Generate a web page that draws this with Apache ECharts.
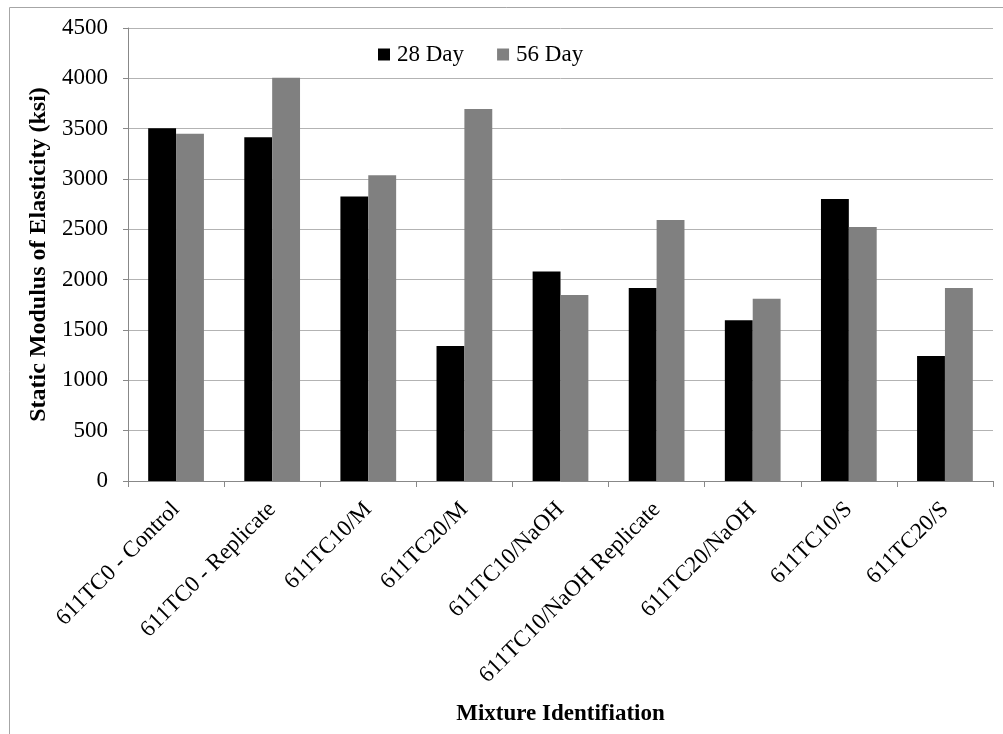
<!DOCTYPE html>
<html>
<head>
<meta charset="utf-8">
<script src="https://cdn.jsdelivr.net/npm/echarts@6/dist/echarts.min.js"></script>
<style>
html,body{margin:0;padding:0;background:#fff;}
#chart{width:1003px;height:734px;}
</style>
</head>
<body>
<div id="chart"></div>
<script>
const categories = ["611TC0 - Control", "611TC0 - Replicate", "611TC10/M", "611TC20/M", "611TC10/NaOH", "611TC10/NaOH Replicate", "611TC20/NaOH", "611TC10/S", "611TC20/S"];
const day28 = [3505, 3415, 2825, 1340, 2080, 1918, 1596, 2801, 1242];
const day56 = [3450, 4005, 3037, 3695, 1848, 2593, 1811, 2523, 1917];
const seriesNames = ["28 Day", "56 Day"];
const yTicks = {min: 0, max: 4500, interval: 500};

const font = 'Liberation Serif';
const chart = echarts.init(document.getElementById('chart'));
chart.setOption({
  animation: false,
  backgroundColor: '#fff',
  textStyle: {fontFamily: font, color: '#000'},
  graphic: [{
    type: 'rect', shape: {x: 9.5, y: 7.5, width: 1010, height: 740},
    style: {fill: 'none', stroke: '#a6a6a6', lineWidth: 1}, silent: true
  }],
  legend: {
    data: seriesNames,
    left: 373, top: 38,
    itemWidth: 12, itemHeight: 12, itemGap: 33,
    icon: 'rect',
    textStyle: {fontFamily: font, fontSize: 23, color: '#000', padding: [0, 0, 0, 2]}
  },
  grid: {left: 128, right: 10, top: 28, bottom: 253, containLabel: false, outerBoundsMode: 'none'},
  xAxis: {
    type: 'category',
    data: categories,
    name: 'Mixture Identifiation',
    nameLocation: 'middle',
    nameGap: 222,
    nameTextStyle: {fontFamily: font, fontSize: 23, fontWeight: 'bold', color: '#000'},
    axisLine: {lineStyle: {color: '#888', width: 1}},
    axisTick: {show: true, alignWithLabel: false, length: 6, lineStyle: {color: '#888'}},
    axisLabel: {rotate: 45, margin: 25, fontFamily: font, fontSize: 23, color: '#000', interval: 0}
  },
  yAxis: {
    type: 'value',
    min: yTicks.min, max: yTicks.max, interval: yTicks.interval,
    name: 'Static Modulus of Elasticity (ksi)',
    nameLocation: 'middle',
    nameGap: 77,
    nameRotate: 90,
    nameTextStyle: {fontFamily: font, fontSize: 24, fontWeight: 'bold', color: '#000'},
    axisLine: {show: true, lineStyle: {color: '#888', width: 1}},
    axisTick: {show: true, length: 5, lineStyle: {color: '#888'}},
    axisLabel: {margin: 20, fontFamily: font, fontSize: 23, color: '#000', formatter: v => String(v)},
    splitLine: {lineStyle: {color: '#b3b3b3', width: 1}}
  },
  series: [
    {name: seriesNames[0], type: 'bar', data: day28, barGap: '0%', barCategoryGap: '42%',
     itemStyle: {color: '#000000'}},
    {name: seriesNames[1], type: 'bar', data: day56, barGap: '0%', barCategoryGap: '42%',
     itemStyle: {color: '#808080'}}
  ]
});
</script>
</body>
</html>
